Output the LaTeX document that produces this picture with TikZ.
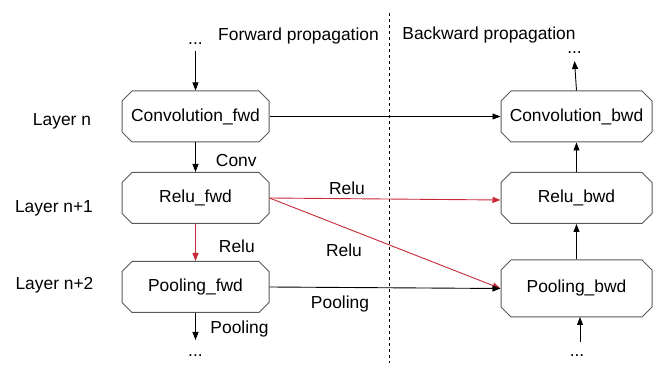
\documentclass[tikz,border=0pt]{standalone}
\usepackage{fontspec}
\setmainfont{Liberation Sans}
\usetikzlibrary{shapes.misc,arrows.meta}
\definecolor{boxgray}{RGB}{90,90,90}
\definecolor{relured}{RGB}{200,40,55}
\begin{document}
\begin{tikzpicture}[x=1pt,y=-1pt,
  font=\fontsize{17.4}{20}\selectfont,
  layerbox/.style={draw=boxgray,line width=1pt,chamfered rectangle,chamfered rectangle xsep=5pt,chamfered rectangle ysep=5pt,chamfered rectangle corners={north west,north east,south west,south east},inner sep=0pt,minimum width=#1,minimum height=51pt},
  link/.style={line width=0.9pt,-{Triangle[length=8pt,width=6pt]}},
  redlink/.style={link,draw=relured,-{Triangle[length=8pt,width=6pt,fill=relured]}},
  lbl/.style={inner sep=0pt}]
\useasboundingbox (0,0) rectangle (657,371);
\node[layerbox=147pt] (cf) at (195.5,116.5) {Convolution\_fwd};
\node[layerbox=147pt] (rf) at (195.5,198) {Relu\_fwd};
\node[layerbox=147pt] (pf) at (195.5,287) {Pooling\_fwd};
\node[layerbox=151pt] (cb) at (576.5,116.5) {Convolution\_bwd};
\node[layerbox=151pt] (rb) at (576.5,198) {Relu\_bwd};
\node[layerbox=151pt,minimum height=57pt] (pb) at (576.5,288.5) {Pooling\_bwd};
\node[lbl] (ln) at (62,121) {Layer n};
\node[lbl] (ln1) at (54,208) {Layer n+1};
\node[lbl] (ln2) at (54.5,285) {Layer n+2};
\node[lbl] (fp) at (298.5,36) {Forward propagation};
\node[lbl] (bp) at (489,35) {Backward propagation};
\node[lbl] (d1) at (195.5,44) {...};
\node[lbl] (d2) at (574.5,53) {...};
\node[lbl] (d3) at (195.5,356) {...};
\node[lbl] (d4) at (577,356) {...};
\coordinate (d1s) at (195.5,51);
\coordinate (d2e) at (574.5,61);
\coordinate (d3e) at (195.5,340);
\coordinate (d4s) at (580,342);
\coordinate (pbb) at (580,317);
\coordinate (dtop) at (389,13);
\coordinate (dbot) at (389,363);
\draw[dashed,line width=0.7pt] (dtop) -- (dbot);
\draw[link] (d1s) -- (cf.north);
\draw[link] (cf.south) -- node[lbl,right=20pt,pos=0.6] (conv) {Conv} (rf.north);
\draw[redlink] (rf.south) -- node[lbl,right=23pt,pos=0.6] (relu1) {Relu} (pf.north);
\draw[link] (pf.south) -- (d3e);
\node[lbl] (pool1) at (239.5,329) {Pooling};
\draw[link] (cf.east) -- (cb.west);
\draw[redlink] (rf.east) -- ([yshift=-2pt]rb.west);
\draw[redlink] (rf.east) -- (pb.west);
\draw[link] (pf.east) -- (pb.west);
\node[lbl] (relu2) at (347,188) {Relu};
\node[lbl] (relu3) at (344,250) {Relu};
\node[lbl] (pool2) at (340,304) {Pooling};
\draw[link] (cb.north) -- (d2e);
\draw[link] (pb.north) -- (rb.south);
\draw[link] (rb.north) -- (cb.south);
\draw[link] (d4s) -- (pbb);
\end{tikzpicture}
\end{document}
